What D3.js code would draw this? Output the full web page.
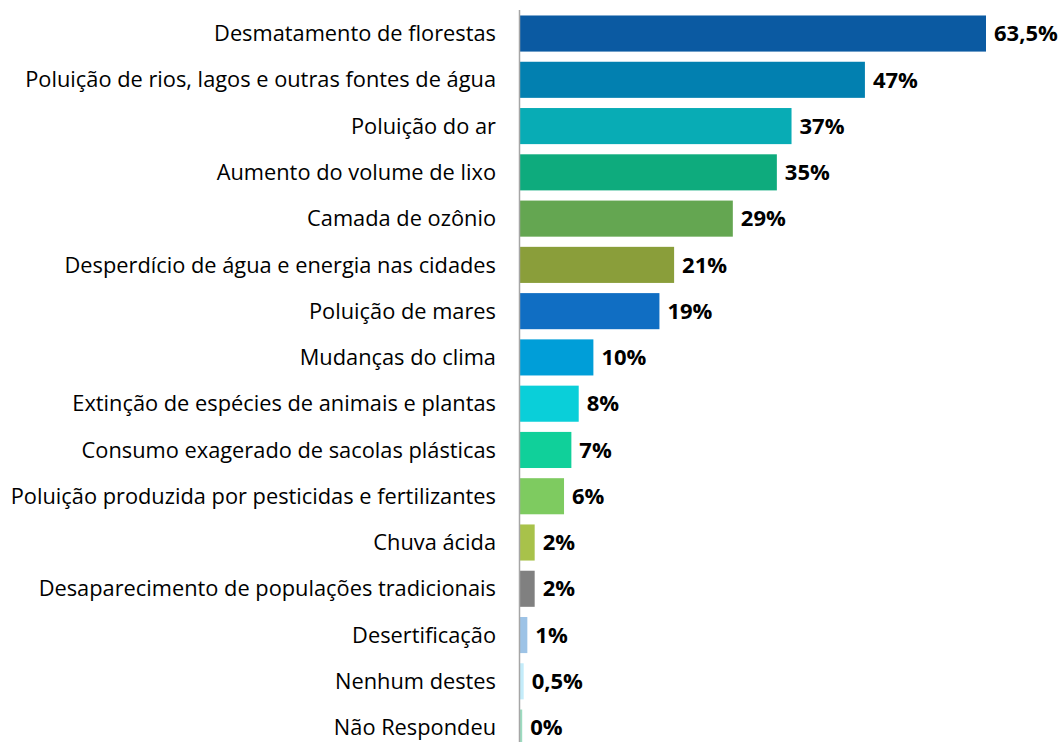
<!DOCTYPE html>
<html><head><meta charset="utf-8">
<script src="https://cdn.jsdelivr.net/npm/d3@7"></script>
<style>body{margin:0;background:#fff}svg{display:block}</style>
</head><body>
<script>
const categories = [
  "Desmatamento de florestas",
  "Poluição de rios, lagos e outras fontes de água",
  "Poluição do ar",
  "Aumento do volume de lixo",
  "Camada de ozônio",
  "Desperdício de água e energia nas cidades",
  "Poluição de mares",
  "Mudanças do clima",
  "Extinção de espécies de animais e plantas",
  "Consumo exagerado de sacolas plásticas",
  "Poluição produzida por pesticidas e fertilizantes",
  "Chuva ácida",
  "Desaparecimento de populações tradicionais",
  "Desertificação",
  "Nenhum destes",
  "Não Respondeu"
];
// bar lengths (the last one is a thin sliver labelled 0%)
const values = [63.5, 47, 37, 35, 29, 21, 19, 10, 8, 7, 6, 2, 2, 1, 0.5, 0.3];
const valueLabels = ["63,5%","47%","37%","35%","29%","21%","19%","10%","8%","7%","6%","2%","2%","1%","0,5%","0%"];
const colors = ["#0B5AA2","#0280B0","#08ACB5","#0EAB7D","#64A651","#8A9E3A","#106EC3","#009ED8",
                "#0ACFD9","#10D09A","#7ECB60","#A8C24A","#808080","#9DC3E6","#C4ECFA","#9CDCC0"];

const W = 1064, H = 742;
const svg = d3.select("body").append("svg").attr("width", W).attr("height", H);
const x0 = 520;
const x = d3.scaleLinear().domain([0, 63.5]).range([x0, 986]);
const y = d3.scaleBand().domain(categories).range([10.4, 10.4 + 16 * 46.27]).paddingInner(0.22).paddingOuter(0.11);

svg.selectAll("rect.bar").data(categories).join("rect")
  .attr("class", "bar")
  .attr("x", x0)
  .attr("y", d => y(d))
  .attr("width", (d, i) => Math.max(0, x(values[i]) - x0))
  .attr("height", y.bandwidth())
  .attr("fill", (d, i) => colors[i]);

// category labels
svg.selectAll("text.cat").data(categories).join("text")
  .attr("class", "cat")
  .attr("x", 496)
  .attr("y", d => y(d) + y.bandwidth() / 2)
  .attr("dy", "0.35em")
  .attr("text-anchor", "end")
  .attr("font-family", "'Open Sans', sans-serif")
  .attr("font-size", 21.8)
  .attr("fill", "#000")
  .text(d => d);

// value labels
svg.selectAll("text.val").data(categories).join("text")
  .attr("class", "val")
  .attr("x", (d, i) => x(values[i]) + 8)
  .attr("y", d => y(d) + y.bandwidth() / 2)
  .attr("dy", "0.35em")
  .attr("font-family", "'Open Sans', sans-serif")
  .attr("font-weight", "bold")
  .attr("font-size", 22)
  .attr("fill", "#000")
  .text((d, i) => valueLabels[i]);

// axis line
svg.append("line")
  .attr("x1", x0 - 0.5).attr("x2", x0 - 0.5)
  .attr("y1", 10).attr("y2", H)
  .attr("stroke", "#A6A6A6").attr("stroke-width", 1.5);
</script>
</body></html>
